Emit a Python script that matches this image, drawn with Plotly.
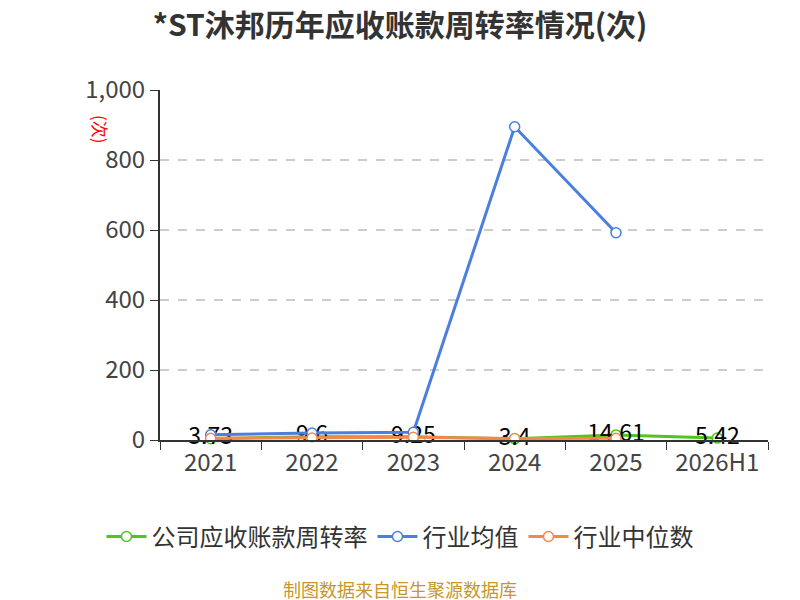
import plotly.graph_objects as go

years = ["2021", "2022", "2023", "2024", "2025", "2026H1"]
company = [3.73, 9.6, 9.25, 3.4, 14.61, 5.42]
industry_mean = [15, 20, 22, 895, 592, None]
industry_median = [5, 6, 8, 4, 5, None]

fig = go.Figure()

fig.add_trace(go.Scatter(
    x=years, y=company, name="公司应收账款周转率",
    mode="lines+markers+text",
    text=[str(v) for v in company],
    textposition="middle center",
    textfont=dict(size=23, color="#000000"),
    cliponaxis=False,
    line=dict(color="#52c41a", width=3),
    marker=dict(size=10, color="white", line=dict(color="#52c41a", width=1.5)),
))
fig.add_trace(go.Scatter(
    x=years, y=industry_mean, name="行业均值",
    mode="lines+markers",
    line=dict(color="#4a7fe0", width=3),
    marker=dict(size=10, color="white", line=dict(color="#4a7fe0", width=1.5)),
))
fig.add_trace(go.Scatter(
    x=years, y=industry_median, name="行业中位数",
    mode="lines+markers",
    line=dict(color="#f4874b", width=3),
    marker=dict(size=10, color="white", line=dict(color="#f4874b", width=1.5)),
))

# page body has an 8px margin, so the figure is sized/offset for it
fig.update_layout(
    width=792, height=592,
    margin=dict(l=152, r=32, t=82, b=160),
    paper_bgcolor="white", plot_bgcolor="white",
    font=dict(family="Noto Sans CJK SC, sans-serif", color="#333333"),
    title=dict(text="<b>*ST沐邦历年应收账款周转率情况(次)</b>", x=0.495, xanchor="center",
               xref="container", yref="container", y=1 - 17 / 592, yanchor="middle",
               font=dict(size=30, color="#333333")),
    showlegend=True,
    legend=dict(orientation="h", x=0.3947, xanchor="center",
                y=-0.277, yanchor="middle", itemwidth=40,
                font=dict(size=24, color="#333333")),
    xaxis=dict(
        type="category", range=[-0.5, 5.5], tickson="boundaries", ticks="outside", ticklen=8,
        tickcolor="#333333", showline=True, linecolor="#333333", linewidth=2,
        showgrid=False, tickfont=dict(size=24, color="#444444"),
    ),
    yaxis=dict(
        range=[0, 1000], tickvals=[0, 200, 400, 600, 800, 1000],
        tickformat=",", ticks="outside", ticklen=8, tickcolor="#333333",
        showline=True, linecolor="#333333", linewidth=2,
        showgrid=True, gridcolor="#cccccc", griddash="dash", gridwidth=1.5,
        zeroline=False, tickfont=dict(size=24, color="#444444"),
    ),
)

fig.add_annotation(
    text="(次)", xref="paper", yref="paper", x=-0.122, y=0.935,
    showarrow=False, textangle=90, font=dict(size=17, color="red"),
)
fig.add_annotation(
    text="制图数据来自恒生聚源数据库", xref="paper", yref="paper",
    x=0.3947, y=-0.4257, showarrow=False, xanchor="center", yanchor="middle",
    font=dict(size=18, color="#c8962a"),
)

fig.write_html("out.html")
